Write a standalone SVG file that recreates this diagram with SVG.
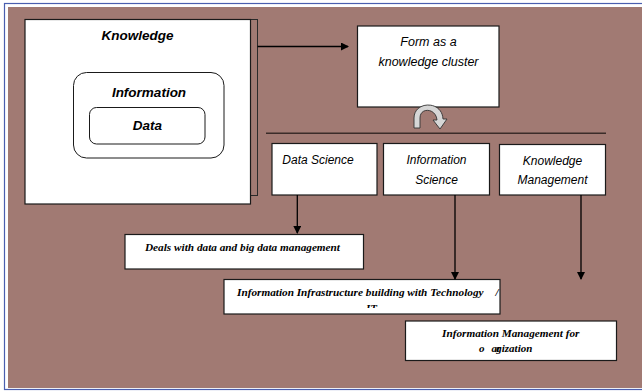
<svg xmlns="http://www.w3.org/2000/svg" width="642" height="391" viewBox="0 0 642 391">
<style>
.box{fill:#fff;stroke:#1a1a1a;stroke-width:1.2}
.rbox{fill:#fff;stroke:#1a1a1a;stroke-width:1}
.bi{font-family:"Liberation Sans",Arial,sans-serif;font-weight:bold;font-style:italic;font-size:13.5px;fill:#000;text-anchor:middle}
.it{font-family:"Liberation Sans",Arial,sans-serif;font-style:italic;font-size:12px;fill:#000;text-anchor:middle}
.tb{font-family:"Liberation Serif","Times New Roman",serif;font-weight:bold;font-style:italic;font-size:11px;fill:#000}
.conn{stroke:#000;stroke-width:1.3;fill:none}
</style>
<defs>
<marker id="ah" markerWidth="8" markerHeight="8" refX="7" refY="4" orient="auto" markerUnits="userSpaceOnUse">
<path d="M0,0 L8,4 L0,8 Z" fill="#000"/>
</marker>
<clipPath id="clipIT"><rect x="224" y="279" width="276" height="29"/></clipPath>
</defs>
<rect x="0" y="0" width="642" height="391" fill="#fff"/>
<rect x="4.5" y="3.5" width="640" height="386" fill="none" stroke="#4a5fb0" stroke-width="1.2"/>
<rect x="8" y="7" width="634" height="381" fill="#a17a73"/>
<g id="knowledge">
<rect x="250.5" y="19.5" width="7" height="176" fill="#a17a73" stroke="#2a2a2a" stroke-width="1"/>
<rect x="25" y="19.5" width="225.5" height="184.5" class="box"/>
<text x="137.5" y="40" class="bi">Knowledge</text>
</g>
<g id="information">
<rect x="73.5" y="72.5" width="150.5" height="85.5" rx="13" class="rbox"/>
<text x="149" y="97" class="bi">Information</text>
</g>
<g id="data">
<rect x="89.5" y="107.5" width="115.5" height="36.5" rx="7" class="rbox"/>
<text x="147.5" y="129.5" class="bi">Data</text>
</g>
<g id="form-cluster">
<rect x="357.5" y="26" width="141.5" height="81" class="box"/>
<text x="428.5" y="45.5" class="it" style="font-size:12.5px">Form as a</text>
<text x="428.5" y="65.5" class="it" style="font-size:12.5px">knowledge cluster</text>
</g>
<g id="data-science">
<rect x="272" y="143.5" width="105" height="51.5" class="box"/>
<text x="318" y="163.5" class="it">Data Science</text>
</g>
<g id="information-science">
<rect x="383.5" y="143.5" width="106" height="51.5" class="box"/>
<text x="436.5" y="163.5" class="it">Information</text>
<text x="436.5" y="183.5" class="it">Science</text>
</g>
<g id="knowledge-management">
<rect x="499.5" y="144.5" width="106" height="50.5" class="box"/>
<text x="552.5" y="164.5" class="it">Knowledge</text>
<text x="552.5" y="184" class="it">Management</text>
</g>
<g id="deals">
<rect x="125" y="234.5" width="238.5" height="34.5" class="box"/>
<text x="145" y="250.5" class="tb" textLength="195" lengthAdjust="spacingAndGlyphs">Deals with data and big data management</text>
</g>
<g id="infrastructure">
<rect x="224" y="279.5" width="276" height="34.5" class="box"/>
<text x="237" y="295.5" class="tb" textLength="246.5" lengthAdjust="spacingAndGlyphs">Information Infrastructure building with Technology</text>
<text x="495.5" y="295.5" class="tb" clip-path="url(#clipIT)">/</text>
<text x="366" y="312" class="tb" clip-path="url(#clipIT)">IT</text>
</g>
<g id="info-management">
<rect x="405.5" y="321" width="211" height="39.5" class="box"/>
<text x="442" y="336.5" class="tb" textLength="137.5" lengthAdjust="spacingAndGlyphs">Information Management for</text>
<text x="479" y="351.5" class="tb">o</text>
<text x="491.5" y="351.5" class="tb">a<tspan dx="-0.5">r</tspan><tspan dx="-4.5">g</tspan>ization</text>
</g>
<g id="connectors">
<line x1="257.5" y1="46.5" x2="348" y2="46.5" class="conn" marker-end="url(#ah)"/>
<line x1="266" y1="133.3" x2="606" y2="133.3" stroke="#3b2c29" stroke-width="1.6"/>
<path d="M414,128 L414,118 C414,101 442,100 443,119 L447,119 L440,129 L433,120 L437,120 C436,108 420,107 420,118 L420,128 Z" fill="#d6d6d6" stroke="#333" stroke-width="0.9"/>
<line x1="297.3" y1="195" x2="297.3" y2="233" class="conn" marker-end="url(#ah)"/>
<line x1="455" y1="195" x2="455" y2="279" class="conn" marker-end="url(#ah)"/>
<line x1="581" y1="195" x2="581" y2="279" class="conn" marker-end="url(#ah)"/>
</g>
</svg>
